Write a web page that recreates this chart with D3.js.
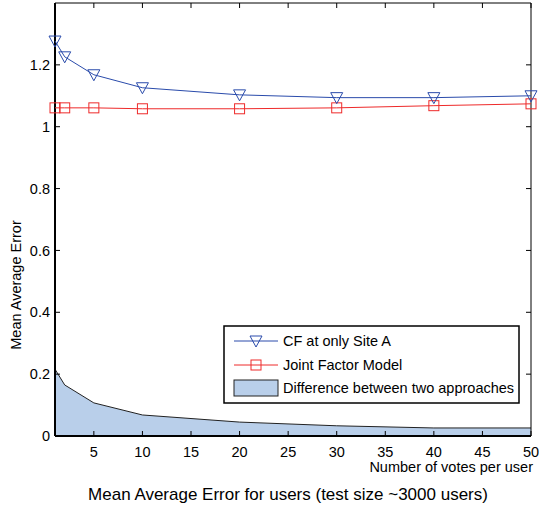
<!DOCTYPE html>
<html>
<head>
<meta charset="utf-8">
<script src="https://cdn.jsdelivr.net/npm/d3@7"></script>
<style>
  body { margin: 0; background: #fff; }
  svg { font-family: "Liberation Sans", Arial, Helvetica, sans-serif; }
</style>
</head>
<body>
<svg id="chart" width="539" height="508"></svg>
<script>
var votes = [1, 2, 5, 10, 20, 30, 40, 50];
var cfSiteA = [1.277, 1.226, 1.168, 1.126, 1.103, 1.094, 1.094, 1.100];
var jointModel = [1.061, 1.061, 1.061, 1.058, 1.058, 1.061, 1.068, 1.074];
var difference = [0.216, 0.165, 0.107, 0.068, 0.045, 0.033, 0.026, 0.026];
var xTicks = [5, 10, 15, 20, 25, 30, 35, 40, 45, 50];
var yTicks = [0, 0.2, 0.4, 0.6, 0.8, 1, 1.2];
var legendLabels = ["CF at only Site A", "Joint Factor Model", "Difference between two approaches"];

(function () {
    var svg = d3.select("#chart"),
        pLeft = 55, pRight = 531, pTop = 3, pBottom = 436,
        blue = "#2a4bab", red = "#ee2a2a", fillCol = "#b9cfea";

    var x = d3.scaleLinear().domain([1, 50]).range([pLeft, pRight]);
    var y = d3.scaleLinear().domain([0, 1.4]).range([pBottom, pTop]);

    var line = d3.line()
        .x(function (d, i) { return x(votes[i]); })
        .y(function (d) { return y(d); });

    // area for the difference
    var area = d3.area().x(function (d, i) { return x(votes[i]); })
        .y0(y(0)).y1(function (d) { return y(d); });
    svg.append("path").datum(difference)
        .attr("d", area).style("fill", fillCol).style("stroke", "none");
    svg.append("path").datum(difference).attr("d", line)
        .style("fill", "none").style("stroke", "#222").style("stroke-width", 1);

    // box
    svg.append("line").attr("x1", pLeft).attr("x2", pRight).attr("y1", pTop).attr("y2", pTop)
        .style("stroke", "#000").style("stroke-width", 1);
    svg.append("line").attr("x1", pRight).attr("x2", pRight).attr("y1", pTop).attr("y2", pBottom)
        .style("stroke", "#000").style("stroke-width", 1);

    // ticks inside on all sides
    xTicks.forEach(function (t) {
        svg.append("line").attr("x1", x(t)).attr("x2", x(t)).attr("y1", pBottom).attr("y2", pBottom - 5)
            .style("stroke", "#000");
        svg.append("line").attr("x1", x(t)).attr("x2", x(t)).attr("y1", pTop).attr("y2", pTop + 5)
            .style("stroke", "#000");
        svg.append("text").attr("x", x(t)).attr("y", pBottom + 21)
            .attr("text-anchor", "middle").style("font-size", "14.5px").text(t);
    });
    yTicks.forEach(function (t) {
        svg.append("line").attr("x1", pLeft).attr("x2", pLeft + 5).attr("y1", y(t)).attr("y2", y(t))
            .style("stroke", "#000");
        svg.append("line").attr("x1", pRight).attr("x2", pRight - 5).attr("y1", y(t)).attr("y2", y(t))
            .style("stroke", "#000");
        svg.append("text").attr("x", pLeft - 5).attr("y", y(t)).attr("dy", "0.35em")
            .attr("text-anchor", "end").style("font-size", "14.5px").text(d3.format("~g")(t));
    });

    svg.append("line").attr("x1", pLeft).attr("x2", pRight).attr("y1", pBottom).attr("y2", pBottom)
        .style("stroke", "#000").style("stroke-width", 2);
    svg.append("line").attr("x1", pLeft).attr("x2", pLeft).attr("y1", pTop).attr("y2", pBottom)
        .style("stroke", "#000").style("stroke-width", 2);

    function triangle(g, cx, cy, col) {
        g.append("path").attr("d", "M" + (cx - 6) + "," + (cy - 5) + "L" + (cx + 6) + "," + (cy - 5) + "L" + cx + "," + (cy + 6) + "Z")
            .style("fill", "none").style("stroke", col).style("stroke-width", 1);
    }
    function square(g, cx, cy, col) {
        g.append("rect").attr("x", cx - 5).attr("y", cy - 5).attr("width", 10).attr("height", 10)
            .style("fill", "none").style("stroke", col).style("stroke-width", 1);
    }

    svg.append("path").datum(jointModel).attr("d", line)
        .style("fill", "none").style("stroke", red).style("stroke-width", 1);
    jointModel.forEach(function (d, i) { square(svg, x(votes[i]), y(d), red); });

    svg.append("path").datum(cfSiteA).attr("d", line)
        .style("fill", "none").style("stroke", blue).style("stroke-width", 1);
    cfSiteA.forEach(function (d, i) { triangle(svg, x(votes[i]), y(d), blue); });

    // legend
    var lg = svg.append("g");
    lg.append("rect").attr("x", 224).attr("y", 326).attr("width", 295).attr("height", 77)
        .style("fill", "#fff").style("stroke", "#000").style("stroke-width", 1.5);
    var ly = [341, 365, 388];
    lg.append("line").attr("x1", 234).attr("x2", 278).attr("y1", ly[0]).attr("y2", ly[0]).style("stroke", blue);
    triangle(lg, 256, ly[0], blue);
    lg.append("line").attr("x1", 234).attr("x2", 278).attr("y1", ly[1]).attr("y2", ly[1]).style("stroke", red);
    square(lg, 256, ly[1], red);
    lg.append("rect").attr("x", 234).attr("y", ly[2] - 8).attr("width", 44).attr("height", 16)
        .style("fill", fillCol).style("stroke", "#222");
    legendLabels.forEach(function (t, i) {
        lg.append("text").attr("x", 283).attr("y", ly[i]).attr("dy", "0.35em")
            .style("font-size", "14.5px").text(t);
    });

    // labels
    svg.append("text").attr("x", pRight + 2).attr("y", 472).attr("text-anchor", "end")
        .style("font-size", "14.5px").text("Number of votes per user");
    svg.append("text").attr("transform", "translate(21,285) rotate(-90)").attr("text-anchor", "middle")
        .style("font-size", "14.5px").text("Mean Average Error");
    svg.append("text").attr("x", 288).attr("y", 500).attr("text-anchor", "middle")
        .style("font-size", "17px").text("Mean Average Error for users (test size ~3000 users)");
}());
</script>
</body>
</html>
